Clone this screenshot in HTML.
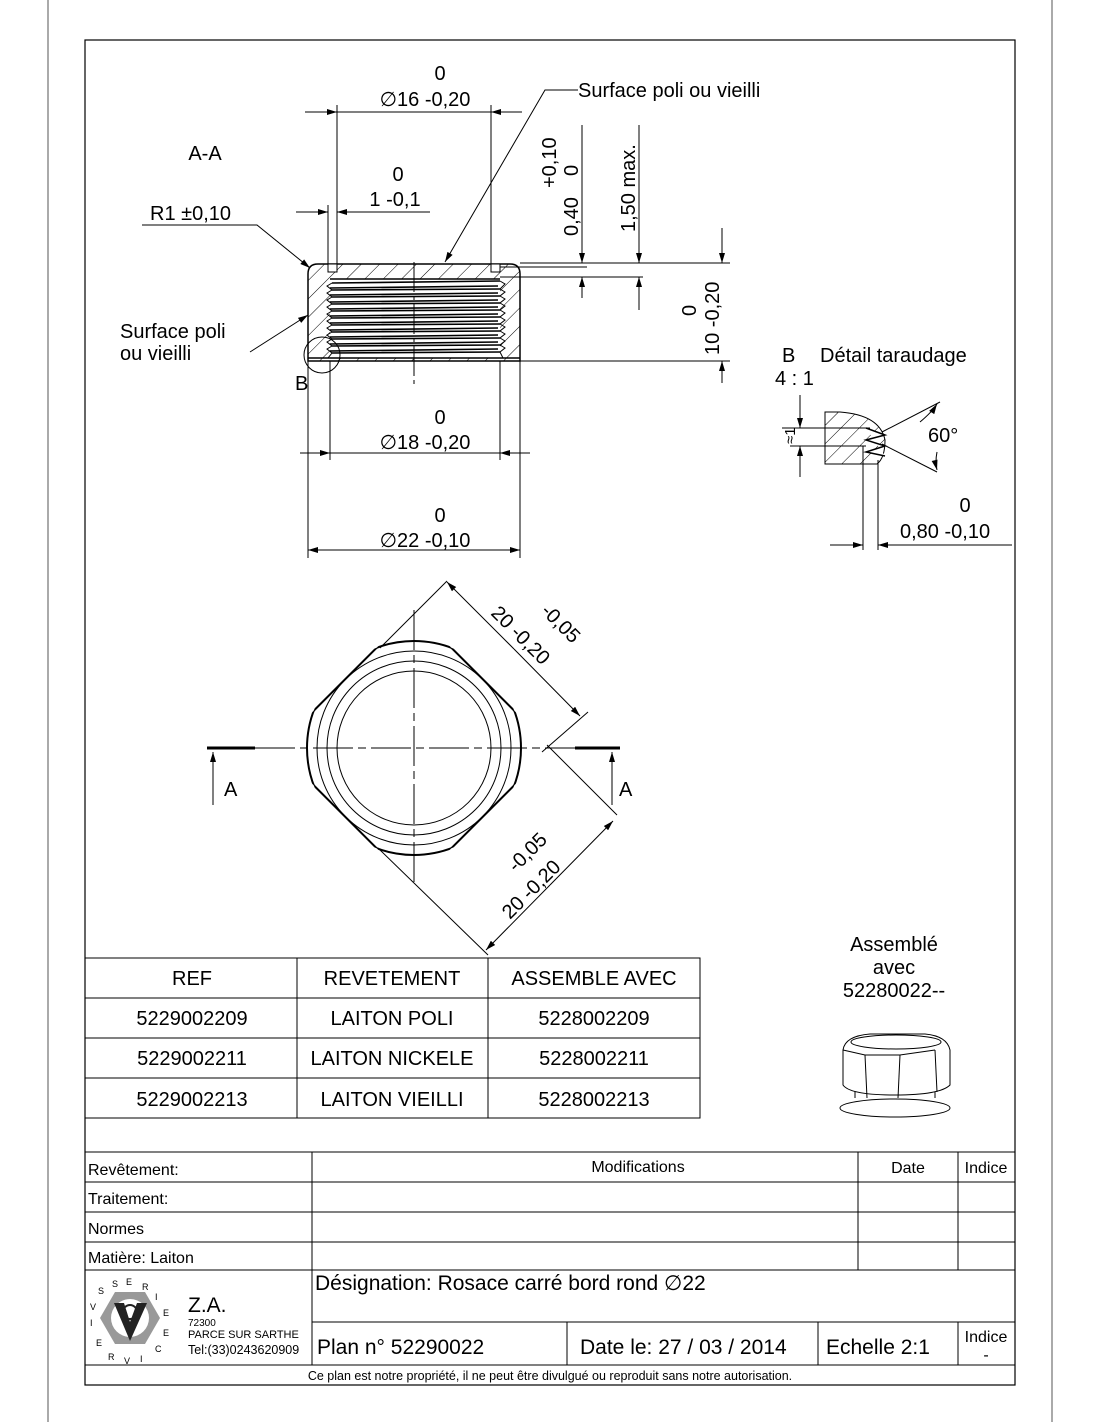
<!DOCTYPE html>
<html><head><meta charset="utf-8"><style>
html,body{margin:0;padding:0;background:#fff}
svg{display:block}
text{font-family:"Liberation Sans",sans-serif;fill:#000}
</style></head><body>
<svg width="1100" height="1422" viewBox="0 0 1100 1422" xmlns="http://www.w3.org/2000/svg">
<defs>
<marker id="ar" viewBox="0 0 10 6" refX="10" refY="3" markerWidth="14" markerHeight="6" markerUnits="userSpaceOnUse" orient="auto"><path d="M0,0 L10,3 L0,6 Z" fill="#000"/></marker>
<pattern id="hatch" patternUnits="userSpaceOnUse" width="13" height="13" patternTransform="rotate(45)"><line x1="0" y1="0" x2="0" y2="13" stroke="#000" stroke-width="1"/></pattern>
<clipPath id="dia"><polygon points="414,610.4 551.6,748 414,885.6 276.4,748"/></clipPath>
<clipPath id="circ"><circle cx="414" cy="748" r="107"/></clipPath>
</defs>
<g fill="none" stroke="#000" stroke-width="1">
<line x1="48" y1="0" x2="48" y2="1422" stroke="#555"/>
<line x1="1052" y1="0" x2="1052" y2="1422" stroke="#555"/>
<rect x="85" y="40" width="930" height="1345" stroke-width="1.2"/>

<path d="M318,264 H510 Q520,264 520,274 V361 H308 V274 Q308,264 318,264 Z M330,279 V358 H500 V279 Z" fill="url(#hatch)" fill-rule="evenodd" stroke="none"/>
<path d="M318,264 H510 Q520,264 520,274 V361 H308 V274 Q308,264 318,264 Z" stroke-width="1.5"/>
<rect x="328" y="264" width="9" height="8" fill="#fff" stroke-width="1"/>
<rect x="491" y="264" width="9" height="8" fill="#fff" stroke-width="1"/>
<rect x="330" y="279" width="170" height="79" fill="#fff" stroke="none"/>
<line x1="330" y1="279" x2="500" y2="279" stroke-width="1.5"/>
<g stroke-width="1.6">
<path d="M332,283 L500,281 M330,288 L498,286 M332,290 L500,289"/>
<path d="M330,295 L498,293 M332,297 L500,296"/>
<path d="M330,302 L498,300 M332,304 L500,303"/>
<path d="M330,309 L498,307 M332,311 L500,310"/>
<path d="M330,316 L498,314 M332,318 L500,317"/>
<path d="M330,323 L498,321 M332,325 L500,324"/>
<path d="M330,330 L498,328 M332,332 L500,331"/>
<path d="M330,337 L498,335 M332,339 L500,338"/>
<path d="M330,344 L498,342 M332,346 L500,345"/>
<path d="M330,351 L498,349 M332,353 L500,352"/>
</g>
<path d="M332,283 L327,286 L332,290 L327,293 L332,297 L327,300 L332,304 L327,307 L332,311 L327,314 L332,318 L327,321 L332,325 L327,328 L332,332 L327,335 L332,339 L327,342 L332,346 L327,349 L332,353 L328,358"/>
<path d="M500,281 L505,284 L500,289 L505,292 L500,296 L505,299 L500,303 L505,306 L500,310 L505,313 L500,317 L505,320 L500,324 L505,327 L500,331 L505,334 L500,338 L505,341 L500,345 L505,348 L500,352 L503,358"/>
<line x1="308" y1="358" x2="520" y2="358" stroke-width="1.5"/>
<line x1="414" y1="262" x2="414" y2="385" stroke-dasharray="30,4,4,4"/>
<circle cx="322" cy="355" r="18"/>

<line x1="337" y1="105" x2="337" y2="272"/><line x1="491" y1="105" x2="491" y2="272"/>
<line x1="305" y1="112" x2="337" y2="112" marker-end="url(#ar)"/><line x1="522" y1="112" x2="491" y2="112" marker-end="url(#ar)"/><line x1="337" y1="112" x2="491" y2="112"/>
<line x1="328" y1="205" x2="328" y2="264"/>
<line x1="296" y1="212" x2="328" y2="212" marker-end="url(#ar)"/><line x1="430" y1="212" x2="337" y2="212" marker-end="url(#ar)"/>
<polyline points="142,225 257,225 310,268" marker-end="url(#ar)"/>
<polyline points="578,90 545,90 445,262" marker-end="url(#ar)"/>
<polyline points="250,352 308,315" marker-end="url(#ar)"/>
<line x1="520" y1="263" x2="730" y2="263"/><line x1="500" y1="267" x2="587" y2="267"/><line x1="500" y1="277" x2="643" y2="277"/>
<line x1="582" y1="125" x2="582" y2="263" marker-end="url(#ar)"/><line x1="582" y1="298" x2="582" y2="277" marker-end="url(#ar)"/>
<line x1="639" y1="125" x2="639" y2="263" marker-end="url(#ar)"/><line x1="639" y1="310" x2="639" y2="277" marker-end="url(#ar)"/>
<line x1="722" y1="228" x2="722" y2="263" marker-end="url(#ar)"/><line x1="722" y1="383" x2="722" y2="361" marker-end="url(#ar)"/>
<line x1="520" y1="361" x2="730" y2="361"/>
<line x1="330" y1="361" x2="330" y2="460"/><line x1="500" y1="361" x2="500" y2="460"/>
<line x1="300" y1="453" x2="330" y2="453" marker-end="url(#ar)"/><line x1="530" y1="453" x2="500" y2="453" marker-end="url(#ar)"/><line x1="330" y1="453" x2="500" y2="453"/>
<line x1="308" y1="361" x2="308" y2="558"/><line x1="520" y1="361" x2="520" y2="558"/>
<line x1="308" y1="550" x2="520" y2="550"/>
<line x1="330" y1="550" x2="308" y2="550" marker-end="url(#ar)"/><line x1="498" y1="550" x2="520" y2="550" marker-end="url(#ar)"/>

<path d="M825,412 H840 Q880,415 885,440 Q885,458 877,464 H825 Z" fill="url(#hatch)"/>
<path d="M866,428 L885,435 L866,440 L885,446 L866,452 L885,456" fill="#fff" stroke-width="1.5"/>
<line x1="782" y1="428" x2="870" y2="428"/><line x1="790" y1="446" x2="866" y2="446"/>
<line x1="800" y1="395" x2="800" y2="428" marker-end="url(#ar)"/><line x1="800" y1="477" x2="800" y2="446" marker-end="url(#ar)"/>
<line x1="863" y1="446" x2="863" y2="550"/><line x1="878" y1="460" x2="878" y2="550"/>
<line x1="830" y1="545" x2="863" y2="545" marker-end="url(#ar)"/><line x1="1012" y1="545" x2="878" y2="545" marker-end="url(#ar)"/>
<line x1="882" y1="432" x2="940" y2="402"/><line x1="882" y1="444" x2="937" y2="472"/>
<path d="M920,422 Q932,412 937,404" marker-end="url(#ar)"/><path d="M937,452 Q935,462 937,470" marker-end="url(#ar)"/>

<circle cx="414" cy="748" r="77"/><circle cx="414" cy="748" r="87"/><circle cx="414" cy="748" r="97"/>
<circle cx="414" cy="748" r="107" clip-path="url(#dia)" stroke-width="2"/>
<polygon points="414,610.4 551.6,748 414,885.6 276.4,748" clip-path="url(#circ)" stroke-width="2"/>
<line x1="255" y1="748" x2="575" y2="748" stroke-dasharray="40,5,8,5"/>
<line x1="414" y1="610" x2="414" y2="885" stroke-dasharray="40,5,8,5"/>
<line x1="380" y1="648" x2="447" y2="581"/>
<line x1="542" y1="752" x2="588" y2="712"/>
<line x1="547" y1="745" x2="617" y2="815"/>
<line x1="378" y1="848" x2="488" y2="955"/>
<line x1="514" y1="649" x2="447" y2="582" marker-end="url(#ar)"/><line x1="514" y1="649" x2="580" y2="716" marker-end="url(#ar)"/>
<line x1="550" y1="885" x2="613" y2="821" marker-end="url(#ar)"/><line x1="550" y1="885" x2="486" y2="950" marker-end="url(#ar)"/>
<line x1="207" y1="748" x2="255" y2="748" stroke-width="3"/><line x1="575" y1="748" x2="620" y2="748" stroke-width="3"/>
<line x1="213" y1="805" x2="213" y2="752" marker-end="url(#ar)"/><line x1="612" y1="805" x2="612" y2="752" marker-end="url(#ar)"/>

<rect x="85" y="958" width="615" height="160"/>
<line x1="85" y1="998" x2="700" y2="998"/><line x1="85" y1="1038" x2="700" y2="1038"/><line x1="85" y1="1078" x2="700" y2="1078"/>
<line x1="297" y1="958" x2="297" y2="1118"/><line x1="488" y1="958" x2="488" y2="1118"/>

<ellipse cx="895" cy="1108" rx="55" ry="9"/>
<path d="M855,1098 V1090 H935 V1098"/>
<path d="M843,1050 Q845,1036 870,1034 H925 Q947,1036 950,1050 V1085 Q940,1095 895,1095 Q850,1095 843,1085 Z" fill="#fff"/>
<ellipse cx="896" cy="1042" rx="45" ry="7"/>
<line x1="865" y1="1055" x2="867" y2="1098"/><line x1="900" y1="1055" x2="898" y2="1098"/><line x1="935" y1="1050" x2="937" y2="1092"/>
<path d="M843,1050 L865,1055 H900 L935,1050"/>

<line x1="85" y1="1152" x2="1015" y2="1152"/>
<line x1="85" y1="1182" x2="1015" y2="1182"/><line x1="85" y1="1212" x2="1015" y2="1212"/><line x1="85" y1="1242" x2="1015" y2="1242"/><line x1="85" y1="1270" x2="1015" y2="1270"/>
<line x1="312" y1="1152" x2="312" y2="1365"/><line x1="858" y1="1152" x2="858" y2="1270"/><line x1="958" y1="1152" x2="958" y2="1270"/>
<line x1="312" y1="1322" x2="1015" y2="1322"/>
<line x1="567" y1="1322" x2="567" y2="1365"/><line x1="818" y1="1322" x2="818" y2="1365"/><line x1="958" y1="1322" x2="958" y2="1365"/>
<line x1="85" y1="1365" x2="1015" y2="1365"/>
<polygon points="100,1318 115,1292 145,1292 160,1318 145,1344 115,1344" fill="#999" stroke="none"/>
<circle cx="130" cy="1318" r="19" fill="#fff" stroke="none"/>
<path d="M114,1303 L130,1341 L147,1303 L137,1303 L130,1322 L124,1303 Z" fill="#222" stroke="none"/>
<circle cx="130" cy="1312" r="7" fill="none" stroke="#222" stroke-width="2"/>
</g>

<g font-size="20">
<text x="205" y="160" text-anchor="middle">A-A</text>
<text x="440" y="80" text-anchor="middle">0</text>
<text x="425" y="106" text-anchor="middle">∅16 -0,20</text>
<text x="578" y="97">Surface poli ou vieilli</text>
<text x="398" y="181" text-anchor="middle">0</text>
<text x="395" y="206" text-anchor="middle">1 -0,1</text>
<text x="150" y="220">R1 ±0,10</text>
<text x="120" y="338">Surface poli</text>
<text x="120" y="360">ou vieilli</text>
<text x="295" y="390">B</text>
<text x="440" y="424" text-anchor="middle">0</text>
<text x="425" y="449" text-anchor="middle">∅18 -0,20</text>
<text x="440" y="522" text-anchor="middle">0</text>
<text x="425" y="547" text-anchor="middle">∅22 -0,10</text>
<text transform="translate(578,236) rotate(-90)">0,40</text>
<text transform="translate(556,188) rotate(-90)">+0,10</text>
<text transform="translate(578,176) rotate(-90)">0</text>
<text transform="translate(635,232) rotate(-90)">1,50 max.</text>
<text transform="translate(696,316) rotate(-90)">0</text>
<text transform="translate(719,355) rotate(-90)">10 -0,20</text>
<text x="782" y="362">B</text>
<text x="820" y="362">Détail taraudage</text>
<text x="775" y="385">4 : 1</text>
<text transform="translate(795,444) rotate(-90)" font-size="15">≈1</text>
<text x="928" y="442">60°</text>
<text x="965" y="512" text-anchor="middle">0</text>
<text x="900" y="538">0,80 -0,10</text>
<text transform="translate(490,614) rotate(45)">20 -0,20</text>
<text transform="translate(540,612) rotate(45)">-0,05</text>
<text transform="translate(510,920) rotate(-45)">20 -0,20</text>
<text transform="translate(516,873) rotate(-45)">-0,05</text>
<text x="224" y="796">A</text>
<text x="619" y="796">A</text>
<text x="192" y="985" text-anchor="middle">REF</text>
<text x="392" y="985" text-anchor="middle">REVETEMENT</text>
<text x="594" y="985" text-anchor="middle">ASSEMBLE AVEC</text>
<text x="192" y="1025" text-anchor="middle">5229002209</text>
<text x="392" y="1025" text-anchor="middle">LAITON POLI</text>
<text x="594" y="1025" text-anchor="middle">5228002209</text>
<text x="192" y="1065" text-anchor="middle">5229002211</text>
<text x="392" y="1065" text-anchor="middle">LAITON NICKELE</text>
<text x="594" y="1065" text-anchor="middle">5228002211</text>
<text x="192" y="1106" text-anchor="middle">5229002213</text>
<text x="392" y="1106" text-anchor="middle">LAITON VIEILLI</text>
<text x="594" y="1106" text-anchor="middle">5228002213</text>
<text x="894" y="951" text-anchor="middle">Assemblé</text>
<text x="894" y="974" text-anchor="middle">avec</text>
<text x="894" y="997" text-anchor="middle">52280022--</text>
</g>
<g font-size="16">
<text x="88" y="1175">Revêtement:</text>
<text x="88" y="1204">Traitement:</text>
<text x="88" y="1234">Normes</text>
<text x="88" y="1263">Matière: Laiton</text>
<text x="638" y="1172" text-anchor="middle">Modifications</text>
<text x="908" y="1173" text-anchor="middle">Date</text>
<text x="986" y="1173" text-anchor="middle">Indice</text>
<text x="986" y="1342" text-anchor="middle">Indice</text>
<text x="986" y="1360" text-anchor="middle">-</text>
</g>
<text x="315" y="1290" font-size="21">Désignation: Rosace carré bord rond  ∅22</text>
<text x="317" y="1354" font-size="21">Plan n° 52290022</text>
<text x="580" y="1354" font-size="21">Date le: 27 / 03 / 2014</text>
<text x="826" y="1354" font-size="21">Echelle 2:1</text>
<text x="188" y="1312" font-size="21">Z.A.</text>
<text x="188" y="1326" font-size="10">72300</text>
<text x="188" y="1338" font-size="11">PARCE SUR SARTHE</text>
<text x="188" y="1354" font-size="12.5">Tel:(33)0243620909</text>
<text x="550" y="1380" font-size="12.5" text-anchor="middle">Ce plan est notre propriété, il ne peut être divulgué ou reproduit sans notre autorisation.</text>
<g font-size="9">
<text x="98" y="1294">S</text><text x="112" y="1287">S</text><text x="126" y="1285">E</text><text x="142" y="1290">R</text><text x="155" y="1300">I</text><text x="163" y="1316">E</text><text x="163" y="1336">E</text><text x="155" y="1352">C</text><text x="140" y="1362">I</text><text x="124" y="1364">V</text><text x="108" y="1360">R</text><text x="96" y="1346">E</text><text x="90" y="1310">V</text><text x="90" y="1326">I</text>
</g>
</svg>
</body></html>
